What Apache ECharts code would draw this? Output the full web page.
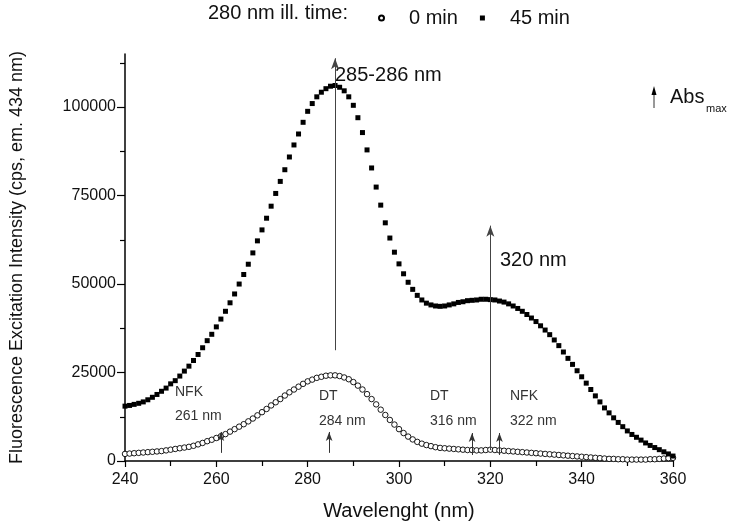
<!DOCTYPE html>
<html><head><meta charset="utf-8">
<script src="https://cdn.jsdelivr.net/npm/echarts@6/dist/echarts.min.js"></script>
<style>html,body{margin:0;padding:0;background:#fff}#c{width:733px;height:530px}</style>
</head><body><div id="c"></div>
<script>
// ---- data ----
const wavelengths = [
240,241,242,243,244,245,246,247,248,249,
250,251,252,253,254,255,256,257,258,259,
260,261,262,263,264,265,266,267,268,269,
270,271,272,273,274,275,276,277,278,279,
280,281,282,283,284,285,286,287,288,289,
290,291,292,293,294,295,296,297,298,299,
300,301,302,303,304,305,306,307,308,309,
310,311,312,313,314,315,316,317,318,319,
320,321,322,323,324,325,326,327,328,329,
330,331,332,333,334,335,336,337,338,339,
340,341,342,343,344,345,346,347,348,349,
350,351,352,353,354,355,356,357,358,359,360];

// 0 min illumination (open circles)
const time0min = [
2000,2100,2200,2300,2400,2500,2600,2700,2800,3000,
3200,3400,3600,3800,4000,4300,4700,5100,5600,6000,
6500,7000,7600,8300,9000,9700,10400,11200,12000,12900,
13800,14700,15700,16600,17500,18500,19400,20200,21000,21800,
22500,23000,23500,23800,24100,24200,24200,24000,23600,23100,
22300,21300,20200,18900,17500,16000,14500,13000,11600,10300,
9000,7900,6900,6100,5400,4900,4500,4200,3900,3700,
3600,3500,3400,3300,3200,3100,3100,3000,3000,3100,
3200,3100,3000,2900,2800,2700,2600,2500,2400,2300,
2200,2100,2000,1900,1800,1700,1600,1500,1400,1300,
1200,1100,1000,900,800,700,600,600,500,500,
400,400,400,400,400,500,500,600,700,800,900];

// 45 min illumination (filled squares)
const time45min = [
15500,15700,16000,16300,16700,17300,18000,18800,19700,20600,
21800,22700,24000,25400,26800,28400,30100,32000,34000,35800,
37900,40100,42300,44700,47200,50000,52700,55600,58800,62200,
65300,68600,72000,75600,79000,82300,85900,89300,92400,95700,
98800,101000,102900,104200,105200,105900,106100,105600,104600,102900,
100500,97000,92800,87900,82800,77400,72300,67300,63000,59000,
55700,52900,50500,48500,46800,45500,44600,44100,43800,43700,
43800,44100,44400,44800,45000,45300,45400,45500,45700,45700,
45600,45500,45200,44900,44400,43800,43100,42300,41400,40400,
39400,38200,37000,35700,34200,32600,30800,29000,27300,25500,
23800,22000,20200,18400,16700,15000,13600,12200,10900,9700,
8500,7500,6700,5900,5100,4400,3800,3200,2600,2000,1400];

const seriesNames = ['0 min', '45 min'];
const xTicks = {min: 240, max: 360, step: 20};
const yMajorTicks = [0, 25000, 50000, 75000, 100000];
const yMinorTicks = [12500, 37500, 62500, 87500, 112500];
const yMax = 115000;

// Arrows: [wavelength, from, to]
const bigArrows = [[286, 31300, 113800], [320, 3100, 66500]];
const smallArrows = [[261, 2300, 8200], [284.7, 2300, 8200], [316, 1700, 7900], [322, 1700, 7900]];

// ---- chart ----
const F = '"Liberation Sans", Arial, sans-serif';
const pair = (vals) => wavelengths.map((w, i) => [w, vals[i]]);

const chart = echarts.init(document.getElementById('c'), null, {renderer: 'canvas'});

const axisCommon = {
  axisLine: {show: true, lineStyle: {color: '#000', width: 1.5}},
  splitLine: {show: false},
};

const option = {
  animation: false,
  backgroundColor: '#fff',
  grid: {left: 121, right: 60, top: 54, bottom: 69, containLabel: false},
  legend: {
    data: seriesNames,
    left: 373, top: 3,
    itemWidth: 5, itemHeight: 5, itemGap: 22,
    textStyle: {fontSize: 20, color: '#111', fontFamily: F, padding: [0, 0, 0, 20]},
    selectedMode: false
  },
  xAxis: Object.assign({}, axisCommon, {
    type: 'value', min: xTicks.min, max: xTicks.max, interval: xTicks.step,
    name: 'Wavelenght (nm)', nameLocation: 'middle', nameGap: 40,
    nameTextStyle: {fontSize: 20, color: '#111', fontFamily: F},
    axisTick: {show: true, inside: false, length: 6, lineStyle: {color: '#000', width: 1.2}},
    minorTick: {show: true, splitNumber: 2, length: 5, lineStyle: {color: '#000', width: 1.2}},
    axisLabel: {fontSize: 16, color: '#111', fontFamily: F, margin: 11}
  }),
  yAxis: [
    Object.assign({}, axisCommon, {
      type: 'value', min: 0, max: yMax, position: 'left',
      name: 'Fluorescence Excitation Intensity (cps, em. 434 nm)',
      nameLocation: 'middle', nameGap: 99,
      nameTextStyle: {fontSize: 18, color: '#111', fontFamily: F},
      axisTick: {show: true, inside: false, length: 8, customValues: yMajorTicks, lineStyle: {color: '#000', width: 1.2}},
      axisLabel: {fontSize: 16, color: '#111', fontFamily: F, margin: 9, customValues: yMajorTicks,
                  formatter: (v) => String(v)}
    }),
    {
      type: 'value', min: 0, max: yMax, position: 'left', offset: 0,
      axisLine: {show: false}, splitLine: {show: false},
      axisLabel: {show: false},
      axisTick: {show: true, inside: false, length: 5, customValues: yMinorTicks, lineStyle: {color: '#000', width: 1.2}}
    }
  ],
  series: [
    {
      name: seriesNames[0], type: 'scatter', yAxisIndex: 0,
      symbol: 'circle', symbolSize: 5.5,
      itemStyle: {color: '#fff', borderColor: '#000', borderWidth: 0.9, opacity: 1},
      data: pair(time0min), z: 3,
      markLine: {
        silent: true, animation: false,
        symbol: ['none', 'arrow'], symbolSize: [5, 9],
        label: {show: false},
        lineStyle: {color: '#333', width: 1, type: 'solid'},
        data: smallArrows.map(a => [{coord: [a[0], a[1]]}, {coord: [a[0], a[2]]}])
      }
    },
    {
      name: seriesNames[1], type: 'scatter', yAxisIndex: 0,
      symbol: 'rect', symbolSize: 5,
      itemStyle: {color: '#000', opacity: 1},
      data: pair(time45min), z: 4,
      markLine: {
        silent: true, animation: false,
        symbol: ['none', 'arrow'], symbolSize: [6, 11],
        label: {show: false},
        lineStyle: {color: '#444', width: 1, type: 'solid'},
        data: bigArrows.map(a => [{coord: [a[0], a[1]]}, {coord: [a[0], a[2]]}])
      }
    }
  ],
  graphic: [
    {type: 'text', left: 208, top: 3, style: {text: '280 nm ill. time:', fontSize: 20, fill: '#111', fontFamily: F}},
    {type: 'text', left: 335, top: 65, style: {text: '285-286 nm', fontSize: 20, fill: '#111', fontFamily: F}},
    {type: 'text', left: 500, top: 250, style: {text: '320 nm', fontSize: 20, fill: '#111', fontFamily: F}},
    {type: 'text', left: 175, top: 385, style: {text: 'NFK', fontSize: 14, fill: '#333', fontFamily: F}},
    {type: 'text', left: 175, top: 409, style: {text: '261 nm', fontSize: 14, fill: '#333', fontFamily: F}},
    {type: 'text', left: 319, top: 389, style: {text: 'DT', fontSize: 14, fill: '#333', fontFamily: F}},
    {type: 'text', left: 319, top: 414, style: {text: '284 nm', fontSize: 14, fill: '#333', fontFamily: F}},
    {type: 'text', left: 430, top: 389, style: {text: 'DT', fontSize: 14, fill: '#333', fontFamily: F}},
    {type: 'text', left: 430, top: 414, style: {text: '316 nm', fontSize: 14, fill: '#333', fontFamily: F}},
    {type: 'text', left: 510, top: 389, style: {text: 'NFK', fontSize: 14, fill: '#333', fontFamily: F}},
    {type: 'text', left: 510, top: 414, style: {text: '322 nm', fontSize: 14, fill: '#333', fontFamily: F}},
    {type: 'line', shape: {x1: 654, y1: 108, x2: 654, y2: 92}, style: {stroke: '#333', lineWidth: 1}},
    {type: 'polygon', shape: {points: [[651.5, 95], [656.5, 95], [654, 86]]}, style: {fill: '#000'}},
    {type: 'text', left: 670, top: 87, style: {text: 'Abs', fontSize: 20, fill: '#111', fontFamily: F}},
    {type: 'text', left: 706, top: 103, style: {text: 'max', fontSize: 11, fill: '#111', fontFamily: F}}
  ]
};
chart.setOption(option);
</script>
</body></html>
